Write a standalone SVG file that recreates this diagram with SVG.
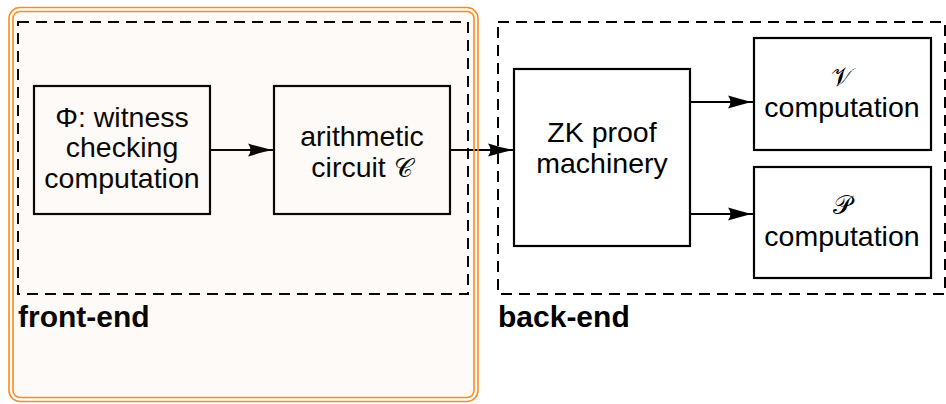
<svg xmlns="http://www.w3.org/2000/svg" width="946" height="404" viewBox="0 0 946 404">
  <defs>
    <style>
      .box { fill: none; stroke: #000; stroke-width: 2.2; }
      .region { fill: none; stroke: #000; stroke-width: 2; stroke-dasharray: 11 7; }
      .lbl { font-family: "Liberation Sans", Arial, sans-serif; font-size: 28.5px; fill: #000; text-anchor: middle; }
      .cal { font-family: "DejaVu Serif", "Liberation Serif", serif; font-weight: normal; font-size: 26px; }
      .title { font-family: "Liberation Sans", Arial, sans-serif; font-size: 30px; font-weight: bold; fill: #000; }
      .edge { fill: none; stroke: #000; stroke-width: 2.2; marker-end: url(#tip); }
      .hl { fill: none; stroke: #ff8a1e; stroke-width: 1.6; }
    </style>
    <marker id="tip" markerUnits="userSpaceOnUse" viewBox="-26 -8 27 16" refX="0" refY="0" markerWidth="27" markerHeight="16" orient="auto">
      <path d="M0 0 C-8 -1.6 -17 -4 -25 -6.5 Q-20 0 -25 6.5 C-17 4 -8 1.6 0 0 Z" fill="#000"/>
    </marker>
  </defs>
  <rect width="946" height="404" fill="#fff"/>

  <!-- dashed regions -->
  <g id="front-end">
    <rect class="region" x="18" y="22" width="450" height="272"/>
    <text class="title" x="18" y="327">front-end</text>
  </g>
  <g id="back-end">
    <rect class="region" x="498" y="22" width="447" height="272"/>
    <text class="title" x="498" y="327">back-end</text>
  </g>

  <!-- nodes -->
  <g id="witness">
    <rect class="box" x="34" y="86" width="176" height="128"/>
    <text class="lbl" x="122" y="127">Φ:  witness</text>
    <text class="lbl" x="122" y="157">checking</text>
    <text class="lbl" x="122" y="188">computation</text>
  </g>
  <g id="circuit">
    <rect class="box" x="274" y="86" width="176" height="128"/>
    <text class="lbl" x="362" y="146">arithmetic</text>
    <text class="lbl" x="362" y="177">circuit <tspan class="cal" font-size="28">𝒞</tspan></text>
  </g>
  <g id="zk">
    <rect class="box" x="514" y="69" width="176" height="177"/>
    <text class="lbl" x="602" y="142">ZK proof</text>
    <text class="lbl" x="602" y="173">machinery</text>
  </g>
  <g id="verifier">
    <rect class="box" x="754" y="38" width="177" height="112"/>
    <text class="lbl cal" x="842" y="86">𝒱</text>
    <text class="lbl" x="842" y="117">computation</text>
  </g>
  <g id="prover">
    <rect class="box" x="754" y="167" width="177" height="111"/>
    <text class="lbl cal" x="842" y="214">𝒫</text>
    <text class="lbl" x="842" y="246">computation</text>
  </g>

  <!-- connectors -->
  <g id="edges">
    <path class="edge" d="M210 150 H273"/>
    <path class="edge" d="M450 150 H513"/>
    <path class="edge" d="M690 102 H753"/>
    <path class="edge" d="M690 214 H753"/>
  </g>

  <!-- highlight over the front-end -->
  <g id="highlight">
    <rect x="11" y="9.5" width="465" height="390" rx="9" fill="#f5a060" fill-opacity="0.05"/>
    <rect class="hl" x="9" y="7.5" width="469" height="394" rx="11"/>
    <rect class="hl" x="13" y="11.5" width="461" height="386" rx="7"/>
  </g>
</svg>
